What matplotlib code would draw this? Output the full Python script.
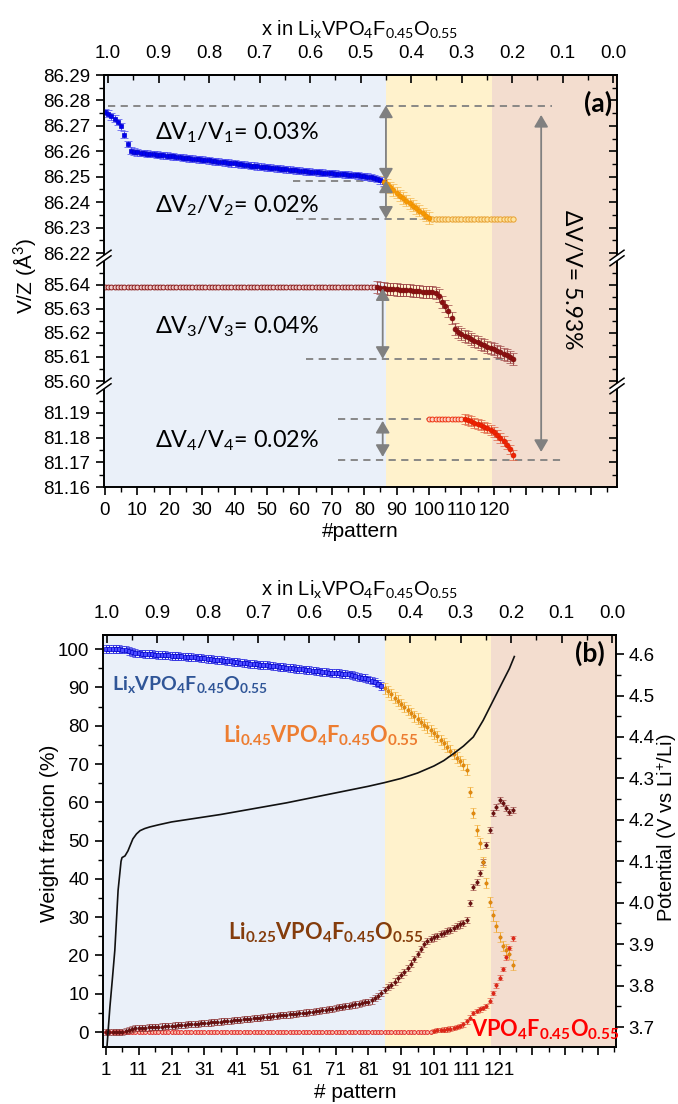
import numpy as np
import matplotlib
matplotlib.use('Agg')
import matplotlib.pyplot as plt
from matplotlib.lines import Line2D

plt.rcParams['font.family'] = ['Liberation Sans', 'DejaVu Sans']
plt.rcParams['mathtext.fontset'] = 'custom'
plt.rcParams['mathtext.rm'] = 'Lato'
plt.rcParams['mathtext.it'] = 'Lato:italic'
plt.rcParams['mathtext.bf'] = 'Lato:bold'
plt.rcParams['axes.linewidth'] = 1.2

# ======================= DATA panel (a) =======================
a_v1_pat = list(range(0, 87))
a_v1 = [86.2755, 86.2748, 86.2738, 86.2728, 86.2715, 86.2698, 86.2665, 86.2628, 86.2603, 86.2598,
        86.2596, 86.2594, 86.2593, 86.2591, 86.2590, 86.2589, 86.2587, 86.2586, 86.2584, 86.2583,
        86.2581, 86.2580, 86.2578, 86.2577, 86.2575, 86.2574, 86.2572, 86.2571, 86.2569, 86.2568,
        86.2567, 86.2565, 86.2564, 86.2562, 86.2561, 86.2559, 86.2558, 86.2556, 86.2555, 86.2553,
        86.2552, 86.2550, 86.2549, 86.2547, 86.2546, 86.2544, 86.2543, 86.2541, 86.2540, 86.2538,
        86.2537, 86.2536, 86.2534, 86.2533, 86.2532, 86.2530, 86.2529, 86.2528, 86.2526, 86.2525,
        86.2524, 86.2523, 86.2521, 86.2520, 86.2519, 86.2518, 86.2517, 86.2516, 86.2515, 86.2514,
        86.2513, 86.2512, 86.2511, 86.2510, 86.2509, 86.2508, 86.2507, 86.2506, 86.2505, 86.2503,
        86.2502, 86.2500, 86.2498, 86.2495, 86.2491, 86.2486, 86.2478]
a_v1_err = 0.0013

a_v2_pat = list(range(86, 101))
a_v2 = [86.2480, 86.2470, 86.2459, 86.2448, 86.2437, 86.2426, 86.2416, 86.2406, 86.2396, 86.2386,
        86.2376, 86.2366, 86.2356, 86.2346, 86.2338]
a_v2_err = 0.0022
a_v2_flat_pat = list(range(101, 127))
a_v2_flat_val = 86.2335

a_v3_flat_pat = list(range(0, 84))
a_v3_flat_val = 85.6389
a_v3_pat = list(range(84, 127))
a_v3 = [85.6390, 85.6388, 85.6386, 85.6384, 85.6383, 85.6382, 85.6380, 85.6379, 85.6378, 85.6377,
        85.6376, 85.6374, 85.6373, 85.6372, 85.6371, 85.6370, 85.6369, 85.6368, 85.6366,
        85.6355, 85.6330, 85.6310, 85.6290, 85.6262, 85.6215, 85.6203, 85.6195, 85.6188, 85.6181,
        85.6175, 85.6168, 85.6161, 85.6155, 85.6149, 85.6143, 85.6137, 85.6131, 85.6126, 85.6120,
        85.6114, 85.6108, 85.6100, 85.6090]
a_v3_err = 0.0025

a_v4_flat_pat = list(range(100, 111))
a_v4_flat_val = 81.1876
a_v4_pat = list(range(111, 127))
a_v4 = [81.1876, 81.1872, 81.1866, 81.1860, 81.1855, 81.1850, 81.1844, 81.1838, 81.1830, 81.1822,
        81.1812, 81.1800, 81.1788, 81.1772, 81.1752, 81.1730]
a_v4_err = 0.0020

# reference levels (dashed lines): (value, x from, x to)
a_levels = [(86.2780, 0.9, 138), (86.2485, 58, 87), (86.2335, 59, 100),
            (85.6090, 62, 126), (81.1876, 72, 100), (81.1710, 72, 141)]
# double arrows: (pattern, from value, to value)
a_arrows = [(86.7, 86.2780, 86.2485), (86.7, 86.2485, 86.2335),
            (85.7, 85.6385, 85.6092), (85.7, 81.1868, 81.1722),
            (134.6, 86.2743, 81.1742)]
a_texts = ['ΔV$_1$/V$_1$= 0.03%', 'ΔV$_2$/V$_2$= 0.02%',
           'ΔV$_3$/V$_3$= 0.04%', 'ΔV$_4$/V$_4$= 0.02%']
a_total = 'ΔV/V= 5.93%'
a_phase_edges = [-0.3, 86.7, 119.4, 158]

# ======================= DATA panel (b) =======================
b_blue_pat = list(range(1, 86))
b_blue = [100.0, 100.1, 100.0, 100.0, 100.0, 99.9, 99.9, 99.5, 99.2, 99.0,
          98.9, 98.85, 98.8, 98.75, 98.7, 98.6, 98.55, 98.5, 98.4, 98.35,
          98.3, 98.25, 98.2, 98.1, 98.05, 98.0, 97.9, 97.85, 97.8, 97.7,
          97.6, 97.5, 97.4, 97.3, 97.2, 97.1, 97.0, 96.9, 96.8, 96.7,
          96.6, 96.5, 96.4, 96.3, 96.2, 96.1, 96.0, 95.95, 95.9, 95.8,
          95.7, 95.6, 95.5, 95.4, 95.3, 95.2, 95.1, 95.0, 94.9, 94.8,
          94.7, 94.6, 94.5, 94.4, 94.3, 94.2, 94.1, 94.0, 93.9, 93.85,
          93.8, 93.7, 93.6, 93.5, 93.4, 93.2, 93.0, 92.8, 92.6, 92.4,
          92.1, 91.8, 91.4, 91.0, 90.4]
b_blue_err = 1.0

b_orange_pat = list(range(86, 126))
b_orange = [89.8, 89.0, 88.2, 87.3, 86.5, 85.7, 84.9, 84.1, 83.3, 82.5,
            81.8, 81.0, 80.3, 79.6, 78.8, 78.0, 77.2, 76.3, 75.4, 74.5,
            73.5, 72.6, 71.7, 70.8, 69.8, 68.5,
            62.7, 57.2, 52.7, 49.3, 44.4, 38.9, 34.0, 30.5, 27.6, 24.8, 22.5, 21.5, 20.5, 17.5]
b_orange_err = 1.4

b_brown_pat = list(range(1, 126))
b_brown = [0.0, 0.0, 0.0, 0.0, 0.0, 0.05, 0.3, 0.6, 0.8, 0.95,
           1.05, 1.1, 1.15, 1.2, 1.3, 1.35, 1.4, 1.45, 1.55, 1.6,
           1.65, 1.7, 1.8, 1.85, 1.9, 2.0, 2.05, 2.1, 2.2, 2.3,
           2.35, 2.45, 2.5, 2.6, 2.65, 2.75, 2.8, 2.9, 3.0, 3.1,
           3.15, 3.25, 3.3, 3.4, 3.5, 3.6, 3.65, 3.75, 3.85, 4.0,
           4.05, 4.15, 4.25, 4.35, 4.45, 4.5, 4.6, 4.7, 4.8, 4.9,
           5.0, 5.1, 5.2, 5.3, 5.45, 5.55, 5.7, 5.8, 5.95, 6.1,
           6.25, 6.45, 6.6, 6.75, 6.9, 7.05, 7.2, 7.4, 7.55, 7.75,
           7.95, 8.25, 8.8, 9.5, 10.2, 10.9, 11.7, 12.4, 13.2, 14.0,
           14.9, 15.8, 16.8, 17.9, 19.1, 20.4, 21.7, 22.9, 23.8, 24.3,
           24.7, 25.1, 25.5, 25.9, 26.3, 26.7, 27.2, 27.6, 28.1, 28.5,
           29.3, 33.7, 37.9, 39.2, 41.5, 44.4, 48.8, 52.7, 57.2, 58.7,
           60.6, 59.8, 58.5, 57.4, 58.0]
b_brown_err = 0.8

b_red_zero_pat = list(range(1, 101))
b_red_zero_val = 0.0
b_red_pat = list(range(101, 126))
b_red = [0.3, 0.5, 0.5, 0.6, 0.7, 0.9, 1.1, 1.3, 1.6, 2.0, 2.8, 3.8, 5.0, 5.5, 5.9,
         6.3, 6.8, 8.2, 10.2, 12.2, 14.2, 16.5, 19.5, 22.0, 24.5]
b_red_err = 0.6

pot_pat = [1.0, 1.3, 2.2, 3.0, 3.7, 4.7, 5.6, 5.9, 6.8, 7.7,
           9.2, 10.3, 11.4, 12.8, 14.4, 17, 21, 26, 31, 36,
           41, 46, 51, 56, 61, 66, 71, 76, 81, 86,
           91, 96, 101, 104, 107, 110, 113, 116, 119, 122,
           124, 125.5]
pot_V = [3.60, 3.652, 3.748, 3.82, 3.885, 4.03, 4.10, 4.109, 4.113, 4.125,
         4.154, 4.166, 4.174, 4.179, 4.183, 4.188, 4.195, 4.201, 4.207, 4.213,
         4.220, 4.227, 4.234, 4.241, 4.249, 4.257, 4.265, 4.273, 4.281, 4.290,
         4.300, 4.313, 4.330, 4.343, 4.36, 4.378, 4.40, 4.44, 4.487, 4.534,
         4.565, 4.594]
b_phase_edges = [0.1, 86.1, 118.4, 156.5]

top_ticks = [1.0, 0.9, 0.8, 0.7, 0.6, 0.5, 0.4, 0.3, 0.2, 0.1, 0.0]
top_labels = ['1.0', '0.9', '0.8', '0.7', '0.6', '0.5', '0.4', '0.3', '0.2', '0.1', '0.0']

# ======================= STYLE =======================
W, H = 678, 1104
TICK = 13.5
TITLE = 15
LATO = ['Lato', 'DejaVu Sans']
BG = ['#EAF0F9', '#FFF2CC', '#F3DDCF']
GRAY = '#808080'

fig = plt.figure(figsize=(W / 100, H / 100), dpi=100)


def rect(l, t, r, b):
    return [l / W, 1 - b / H, (r - l) / W, (b - t) / H]


def ptxt(x, y, s, **kw):
    return fig.text(x / W, 1 - y / H, s, **kw)


def style_ticks(ax, axis, direction, **kw):
    ax.tick_params(axis=axis, which='major', direction=direction, length=6, width=1.2,
                   labelsize=TICK, **kw)
    ax.tick_params(axis=axis, which='minor', direction=direction, length=3.5, width=1.0, **kw)


# ---------------- panel (a) ----------------
axA = fig.add_axes(rect(104, 75, 617, 487))
brk_vals = [81.16, 81.20, 85.60, 85.65, 86.22, 86.29]
brk_pix = [0.0, 98.7, 106.0, 226.4, 234.0, 412.0]


def _pw(v, xs, ys):
    v = np.asarray(v, dtype=float)
    out = np.interp(v, xs, ys)
    s0 = (ys[1] - ys[0]) / (xs[1] - xs[0])
    s1 = (ys[-1] - ys[-2]) / (xs[-1] - xs[-2])
    out = np.where(v < xs[0], ys[0] + (v - xs[0]) * s0, out)
    out = np.where(v > xs[-1], ys[-1] + (v - xs[-1]) * s1, out)
    return out


def fwdA(v):
    return _pw(v, brk_vals, brk_pix)


def invA(p):
    return _pw(p, brk_pix, brk_vals)


yt_major = [81.16, 81.17, 81.18, 81.19, 85.60, 85.61, 85.62, 85.63, 85.64,
            86.22, 86.23, 86.24, 86.25, 86.26, 86.27, 86.28, 86.29]
yt_minor = [81.165, 81.175, 81.185, 81.195, 85.605, 85.615, 85.625, 85.635, 85.645,
            86.225, 86.235, 86.245, 86.255, 86.265, 86.275, 86.285]

axA.set_yscale('function', functions=(fwdA, invA))
axA.set_ylim(81.16, 86.29)
axA.set_xlim(a_phase_edges[0], a_phase_edges[-1])
for i in range(3):
    axA.axvspan(a_phase_edges[i], a_phase_edges[i + 1], color=BG[i], lw=0, zorder=0)

axA.set_yticks(yt_major)
axA.set_yticklabels([f'{v:.2f}' for v in yt_major])
axA.set_yticks(yt_minor, minor=True)
xmaj = list(range(0, 151, 10))
axA.set_xticks(xmaj)
axA.set_xticklabels([str(v) if v <= 120 else '' for v in xmaj])
axA.set_xticks(list(range(5, 160, 10)), minor=True)
style_ticks(axA, 'y', 'out', left=True, right=False, pad=4)
style_ticks(axA, 'x', 'out', bottom=True, top=False, pad=5)

for val, x0, x1 in a_levels:
    axA.hlines(val, x0, x1, colors=GRAY, linestyles=(0, (4, 3)), lw=1.3, zorder=2)

axA.errorbar(a_v1_pat, a_v1, yerr=a_v1_err, fmt='s', ms=3.5, mfc='#0000ee', mec='#0000cc',
             mew=0.5, ecolor='#4a4aef', elinewidth=0.7, capsize=3, capthick=0.7, zorder=3)
axA.errorbar(a_v2_pat, a_v2, yerr=a_v2_err, fmt='o', ms=3.5, mfc='#f59a00', mec='#f08c00',
             mew=0.5, ecolor='#f5b850', elinewidth=0.7, capsize=3, capthick=0.7, zorder=3)
axA.plot(a_v2_flat_pat, [a_v2_flat_val] * len(a_v2_flat_pat), 'o', ms=3.8, mfc='#fde3a0',
         mec='#e8a030', mew=0.7, zorder=3)
axA.plot(a_v3_flat_pat, [a_v3_flat_val] * len(a_v3_flat_pat), 'o', ms=3.5, mfc='#efcccc',
         mec='#8b1a1a', mew=0.7, zorder=3)
axA.errorbar(a_v3_pat, a_v3, yerr=a_v3_err, fmt='o', ms=3.5, mfc='#8b1010', mec='#7a0d0d',
             mew=0.5, ecolor='#a04848', elinewidth=0.7, capsize=3, capthick=0.7, zorder=3)
axA.plot(a_v4_flat_pat, [a_v4_flat_val] * len(a_v4_flat_pat), 'o', ms=3.5, mfc='#fbd3c4',
         mec='#ee3311', mew=0.7, zorder=3)
axA.errorbar(a_v4_pat, a_v4, yerr=a_v4_err, fmt='o', ms=3.5, mfc='#ee2200', mec='#dd1a00',
             mew=0.5, ecolor='#e06040', elinewidth=0.7, capsize=3, capthick=0.7, zorder=3)

for xp, y0, y1 in a_arrows:
    axA.annotate('', xy=(xp, y1), xytext=(xp, y0),
                 arrowprops=dict(arrowstyle='<|-|>,head_length=0.6,head_width=0.35',
                                 mutation_scale=12, color=GRAY, lw=1.3, shrinkA=0, shrinkB=0),
                 zorder=4)

# right mirrored ticks (inward)
axAr = axA.twinx()
axAr.set_yscale('function', functions=(fwdA, invA))
axAr.set_ylim(81.16, 86.29)
axAr.set_yticks(yt_major)
axAr.set_yticks(yt_minor, minor=True)
axAr.set_yticklabels([])
style_ticks(axAr, 'y', 'in', right=True, left=False)


def p2x_a(p):
    return 1 - (np.asarray(p, float) - 0.93) / 155.9


def x2p_a(x):
    return 0.93 + (1 - np.asarray(x, float)) * 155.9


secA = axA.secondary_xaxis('top', functions=(p2x_a, x2p_a))
secA.set_xticks(top_ticks)
secA.set_xticklabels(top_labels)
secA.set_xticks([0.95, 0.85, 0.75, 0.65, 0.55, 0.45, 0.35, 0.25, 0.15, 0.05], minor=True)
style_ticks(secA, 'x', 'in', pad=9)

# text (a)
dv_y = [139, 212, 333, 447]
for s, yy in zip(a_texts, dv_y):
    ptxt(155, yy, s, family=LATO, fontsize=16.8, ha='left', va='baseline')
ptxt(571, 280, a_total, family=LATO, fontsize=16.5, rotation=-90, ha='center', va='center')
ptxt(598, 103, '(a)', family=LATO, fontsize=19, fontweight='bold', ha='center', va='center')

ptxt(360, 35, r'x in Li$_\mathrm{x}$VPO$_\mathrm{4}$F$_\mathrm{0.45}$O$_\mathrm{0.55}$',
     fontsize=14.5, ha='center', va='baseline')
ptxt(360, 522, '#pattern', fontsize=TITLE, ha='center', va='top')
ptxt(24, 276, 'V/Z (Å$^\\mathrm{3}$)', fontsize=TITLE, rotation=90, ha='center', va='center')


# break marks
def brk(px, py):
    fig.add_artist(Line2D([(px - 5) / W, (px + 5) / W], [1 - (py + 3.5) / H, 1 - (py - 3.5) / H],
                          color='white', lw=3.2, zorder=20))
    for dy in (-2.8, 2.8):
        fig.add_artist(Line2D([(px - 7) / W, (px + 7) / W],
                              [1 - (py + dy + 5) / H, 1 - (py + dy - 5) / H],
                              color='k', lw=1.1, zorder=21))


for px in (104, 617):
    brk(px, 258)
    brk(px, 386)

# ---------------- panel (b) ----------------
axB = fig.add_axes(rect(103, 635, 616, 1047))
axB.set_xlim(b_phase_edges[0], b_phase_edges[-1])
axB.set_ylim(-3.9, 103.7)
for i in range(3):
    axB.axvspan(b_phase_edges[i], b_phase_edges[i + 1], color=BG[i], lw=0, zorder=0)

axB.set_yticks(list(range(0, 101, 10)))
axB.set_yticks(list(range(5, 100, 10)), minor=True)
bx = list(range(1, 152, 10))
axB.set_xticks(bx)
axB.set_xticklabels([str(v) if v <= 121 else '' for v in bx])
axB.set_xticks(list(range(6, 157, 10)), minor=True)
style_ticks(axB, 'y', 'out', left=True, right=False, pad=4)
style_ticks(axB, 'x', 'out', bottom=True, top=False, pad=5)

axB.plot(b_red_zero_pat, [b_red_zero_val] * len(b_red_zero_pat), 'o', ms=2.8, mfc='#f7b5a5',
         mec='#e02020', mew=0.6, zorder=3)
axB.errorbar(b_brown_pat, b_brown, yerr=b_brown_err, fmt='o', ms=2.4, mfc='#6b1010',
             mec='#5a0c0c', mew=0.4, ecolor='#8b2f2f', elinewidth=0.7, capsize=2.5,
             capthick=0.7, zorder=3)
axB.errorbar(b_red_pat, b_red, yerr=b_red_err, fmt='o', ms=2.4, mfc='#e02818', mec='#d01a10',
             mew=0.4, ecolor='#e04530', elinewidth=0.7, capsize=2.5, capthick=0.7, zorder=3)
axB.errorbar(b_blue_pat, b_blue, yerr=b_blue_err, fmt='s', ms=3.0, mfc='#4a4aff', mec='#0000cc',
             mew=0.5, ecolor='#2a2ae0', elinewidth=0.7, capsize=2.5, capthick=0.7, zorder=3)
axB.errorbar(b_orange_pat, b_orange, yerr=b_orange_err, fmt='o', ms=2.4, mfc='#e58a10',
             mec='#d07a00', mew=0.4, ecolor='#f0a830', elinewidth=0.7, capsize=2.5,
             capthick=0.7, zorder=3)

axBr = axB.twinx()
axBr.set_ylim(3.652, 4.646)
axBr.set_yticks([3.7, 3.8, 3.9, 4.0, 4.1, 4.2, 4.3, 4.4, 4.5, 4.6])
axBr.set_yticklabels(['3.7', '3.8', '3.9', '4.0', '4.1', '4.2', '4.3', '4.4', '4.5', '4.6'])
axBr.set_yticks([3.75, 3.85, 3.95, 4.05, 4.15, 4.25, 4.35, 4.45, 4.55], minor=True)
style_ticks(axBr, 'y', 'out', right=True, left=False, pad=3)
axBr.plot(pot_pat, pot_V, color='#111111', lw=1.2, zorder=4)


def p2x_b(p):
    return 1 - (np.asarray(p, float) - 1.3) / 154.0


def x2p_b(x):
    return 1.3 + (1 - np.asarray(x, float)) * 154.0


secB = axB.secondary_xaxis('top', functions=(p2x_b, x2p_b))
secB.set_xticks(top_ticks)
secB.set_xticklabels(top_labels)
secB.set_xticks([0.95, 0.85, 0.75, 0.65, 0.55, 0.45, 0.35, 0.25, 0.15, 0.05], minor=True)
style_ticks(secB, 'x', 'in', pad=9)

ptxt(112, 690, r'Li$_\mathbf{x}$VPO$_\mathbf{4}$F$_\mathbf{0.45}$O$_\mathbf{0.55}$',
     family=LATO, fontsize=14, fontweight='bold', color='#2F5597', va='baseline')
ptxt(223, 743, r'Li$_\mathbf{0.45}$VPO$_\mathbf{4}$F$_\mathbf{0.45}$O$_\mathbf{0.55}$',
     family=LATO, fontsize=15.7, fontweight='bold', color='#ED7D31', va='baseline')
ptxt(228, 940, r'Li$_\mathbf{0.25}$VPO$_\mathbf{4}$F$_\mathbf{0.45}$O$_\mathbf{0.55}$',
     family=LATO, fontsize=15.7, fontweight='bold', color='#843C0C', va='baseline')
ptxt(471, 1037, r'VPO$_\mathbf{4}$F$_\mathbf{0.45}$O$_\mathbf{0.55}$',
     family=LATO, fontsize=15.7, fontweight='bold', color='#FF0000', va='baseline')
ptxt(590, 653, '(b)', family=LATO, fontsize=19, fontweight='bold', ha='center', va='center')

ptxt(360, 595, r'x in Li$_\mathrm{x}$VPO$_\mathrm{4}$F$_\mathrm{0.45}$O$_\mathrm{0.55}$',
     fontsize=14.5, ha='center', va='baseline')
ptxt(355, 1083, '# pattern', fontsize=TITLE, ha='center', va='top')
ptxt(50, 833, 'Weight fraction (%)', fontsize=TITLE, rotation=90, ha='center', va='center')
ptxt(667, 828, r'Potential (V vs Li$^\mathrm{+}$/Li)', fontsize=14.5, rotation=90,
     ha='center', va='center')

fig.savefig('out.png', dpi=100)
